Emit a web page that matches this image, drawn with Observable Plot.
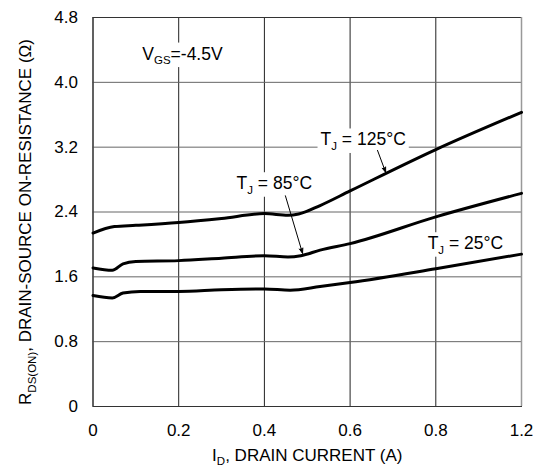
<!DOCTYPE html>
<html><head><meta charset="utf-8">
<script src="https://cdn.jsdelivr.net/npm/d3@7"></script>
<script src="https://cdn.jsdelivr.net/npm/@observablehq/plot@0.6"></script>
<style>body{margin:0;background:#fff}</style>
</head><body><div id="chart"></div>
<script>
// Tick positions and their printed labels (the last label reads "1.2" in the original)
const xTicks = [0, 0.2, 0.4, 0.6, 0.8, 1.0];
const xTickLabels = ["0", "0.2", "0.4", "0.6", "0.8", "1.2"];
const yTicks = [0, 0.8, 1.6, 2.4, 3.2, 4.0, 4.8];
const yTickLabels = ["0", "0.8", "1.6", "2.4", "3.2", "4.0", "4.8"];

// Series (x in axis position units, y in ohms)
const curve125 = [[0,2.14],[0.05,2.22],[0.1,2.235],[0.2,2.27],[0.3,2.32],[0.4,2.38],[0.455,2.36],[0.48,2.375],[0.53,2.48],[0.6,2.66],[0.8,3.17],[1.0,3.63]];
const curve85  = [[0,1.71],[0.045,1.68],[0.07,1.76],[0.1,1.79],[0.2,1.80],[0.3,1.83],[0.4,1.86],[0.455,1.845],[0.485,1.86],[0.53,1.93],[0.6,2.01],[0.8,2.34],[1.0,2.63]];
const curve25  = [[0,1.37],[0.045,1.34],[0.07,1.40],[0.11,1.42],[0.2,1.42],[0.3,1.44],[0.4,1.45],[0.46,1.435],[0.53,1.48],[0.6,1.53],[0.8,1.70],[1.0,1.88]];

// Annotations
const labels = [
  {x: 0.115, y: 4.35, text: "V{GS}=-4.5V"},
  {x: 0.531, y: 3.29, text: "T{J} = 125°C"},
  {x: 0.335, y: 2.75, text: "T{J} = 85°C"},
  {x: 0.781, y: 2.01, text: "T{J} = 25°C"}
];
const arrows = [
  {x1: 0.664, y1: 3.16, x2: 0.683, y2: 2.89},
  {x1: 0.449, y1: 2.60, x2: 0.489, y2: 1.89}
];
const xAxisLabel = "I{D}, DRAIN CURRENT (A)";
const yAxisLabel = "R{DS(ON)}, DRAIN-SOURCE ON-RESISTANCE (Ω)";

const toRows = (arr) => arr.map(([x, y]) => ({x, y}));

const plot = Plot.plot({
  width: 537, height: 472,
  marginLeft: 92.5, marginRight: 16, marginTop: 17, marginBottom: 66,
  style: {fontFamily: "'Liberation Sans', Arial, sans-serif", fontSize: "17px", background: "#fff", color: "#000", overflow: "visible"},
  x: {domain: [0, 1]},
  y: {domain: [0, 4.8]},
  marks: [
    Plot.gridX(xTicks, {stroke: "#222", strokeOpacity: 1}),
    Plot.gridY(yTicks, {stroke: "#666", strokeOpacity: 1}),
    Plot.frame({stroke: "#333"}),
    Plot.ruleX([1], {stroke: "#999", strokeWidth: 1.5}),
    Plot.axisX(xTicks, {tickSize: 0, tickPadding: 17, label: null, fontSize: 17,
      tickFormat: d => xTickLabels[xTicks.indexOf(d)]}),
    Plot.axisY(yTicks, {tickSize: 0, tickPadding: 15, label: null, fontSize: 17,
      tickFormat: d => yTickLabels[yTicks.indexOf(d)]}),
    Plot.text(labels, {x: "x", y: "y", text: "text", textAnchor: "start", fill: "#000", fontSize: 17.5}),
    Plot.line(toRows(curve125), {x: "x", y: "y", curve: "monotone-x", stroke: "#000", strokeWidth: 3}),
    Plot.line(toRows(curve85), {x: "x", y: "y", curve: "monotone-x", stroke: "#000", strokeWidth: 3}),
    Plot.line(toRows(curve25), {x: "x", y: "y", curve: "monotone-x", stroke: "#000", strokeWidth: 3}),
    Plot.arrow(arrows, {x1: "x1", y1: "y1", x2: "x2", y2: "y2", stroke: "#000", strokeWidth: 1,
      headLength: 8, headAngle: 40}),
    Plot.text([xAxisLabel], {frameAnchor: "bottom", dy: 54, text: d => d, fontSize: 17, fill: "#000"}),
    Plot.text([yAxisLabel], {frameAnchor: "left", textAnchor: "middle", rotate: -90, dx: -67, dy: 10, text: d => d, fontSize: 17, fill: "#000"})
  ]
});

// Render {…} segments as subscripts
d3.select(plot).selectAll("text").each(function() {
  const t = this.textContent;
  if (!t.includes("{")) return;
  const el = d3.select(this);
  el.text(null);
  const parts = t.split(/(\{[^}]*\})/).filter(s => s);
  let shifted = false;
  for (const p of parts) {
    if (p.startsWith("{")) {
      el.append("tspan").attr("font-size", 11.5).attr("dy", 4.5).text(p.slice(1, -1));
      shifted = true;
    } else {
      const ts = el.append("tspan").text(p);
      if (shifted) { ts.attr("dy", -4.5); shifted = false; }
    }
  }
});

// Filled arrow heads
d3.select(plot).selectAll('g[aria-label="arrow"] path').attr("fill", "#000");

document.getElementById("chart").appendChild(plot);

// White boxes behind annotation labels (they interrupt the grid as in the original)
d3.select(plot).selectAll('g[aria-label="text"]').each(function(_, gi) {
  if (gi !== 0) return;
  const g = this;
  d3.select(g).selectAll("text").each(function() {
    const b = this.getBBox();
    const tr = this.getAttribute("transform");
    const r = document.createElementNS("http://www.w3.org/2000/svg", "rect");
    r.setAttribute("x", b.x - 3);
    r.setAttribute("y", b.y - 1);
    r.setAttribute("width", b.width + 6);
    r.setAttribute("height", b.height + 2);
    r.setAttribute("fill", "#fff");
    if (tr) r.setAttribute("transform", tr);
    g.insertBefore(r, this);
  });
});
</script>
</body></html>
